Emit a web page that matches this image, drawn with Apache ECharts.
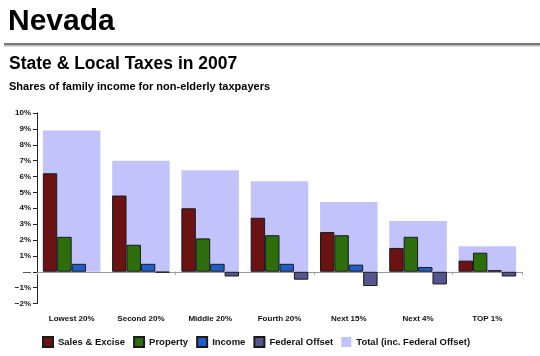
<!DOCTYPE html>
<html><head><meta charset="utf-8">
<script src="https://cdn.jsdelivr.net/npm/echarts@6/dist/echarts.min.js"></script>
<style>html,body{margin:0;padding:0;background:#fff}#c{width:540px;height:356px}</style>
</head><body><div id="c"></div>
<script>
const categories = ['Lowest 20%', 'Second 20%', 'Middle 20%', 'Fourth 20%', 'Next 15%', 'Next 4%', 'TOP 1%'];
const salesExcise = [6.2, 4.8, 4.0, 3.4, 2.5, 1.5, 0.7];
const property = [2.2, 1.7, 2.1, 2.3, 2.3, 2.2, 1.2];
const income = [0.5, 0.5, 0.5, 0.5, 0.45, 0.3, 0.1];
const federalOffset = [null, -0.05, -0.3, -0.5, -0.9, -0.8, -0.3];
const totalIncFederal = [8.9, 7.0, 6.4, 5.7, 4.4, 3.2, 1.6];
const seriesNames = ['Sales & Excise', 'Property', 'Income', 'Federal Offset', 'Total (inc. Federal Offset)'];

const FONT = "'Liberation Sans', Arial, Helvetica, sans-serif";
const chart = echarts.init(document.getElementById('c'), null, {renderer: 'canvas'});
const border = {borderColor: '#1a1a1a', borderWidth: 1};
function sub(name, data, color) {
  return {name, type: 'bar', data, xAxisIndex: 0, barWidth: 14.4, barGap: '0%', z: 3,
    itemStyle: Object.assign({color}, border)};
}
chart.setOption({
  animation: false,
  textStyle: {fontFamily: FONT},
  graphic: [
    {type: 'text', left: 8, top: 7, style: {text: 'Nevada', font: 'bold 30px ' + FONT, fill: '#000'}},
    {type: 'rect', shape: {x: 4, y: 43, width: 536, height: 2}, style: {fill: '#777'}},
    {type: 'rect', shape: {x: 4, y: 45, width: 536, height: 1.5}, style: {fill: '#bbb'}},
    {type: 'text', left: 9, top: 55, style: {text: 'State & Local Taxes in 2007', font: 'bold 17.5px ' + FONT, fill: '#000'}},
    {type: 'text', left: 9, top: 81.5, style: {text: 'Shares of family income for non-elderly taxpayers', font: 'bold 11px ' + FONT, fill: '#000'}}
  ],
  grid: {left: 37, right: 18, top: 113, bottom: 52.5, containLabel: false},
  legend: {
    data: seriesNames, bottom: 3, left: 37, itemWidth: 10, itemHeight: 10, itemGap: 8,
    icon: 'rect',
    textStyle: {fontFamily: FONT, fontWeight: 'bold', fontSize: 9.5, color: '#111'}
  },
  xAxis: [
    {type: 'category', data: categories, position: 'bottom',
      axisLine: {onZero: true, lineStyle: {color: '#999', width: 1}},
      axisTick: {show: true, length: 3, lineStyle: {color: '#999'}},
      axisLabel: {show: false}},
    {type: 'category', data: categories, position: 'bottom',
      axisLine: {show: false, onZero: false}, axisTick: {show: false},
      axisLabel: {show: true, margin: 11, fontFamily: FONT, fontWeight: 'bold', fontSize: 8, color: '#111', interval: 0}}
  ],
  yAxis: {
    type: 'value', min: -2, max: 10, interval: 1,
    splitLine: {show: false},
    axisLine: {show: true, lineStyle: {color: '#222', width: 1}},
    axisTick: {show: true, length: 4, lineStyle: {color: '#222'}},
    axisLabel: {margin: 6, fontFamily: FONT, fontWeight: 'bold', fontSize: 8, color: '#111',
      formatter: v => v === 0 ? '\u2014' : (v < 0 ? '\u2212' + (-v) : v) + '%'}
  },
  series: [
    sub(seriesNames[0], salesExcise, '#6b1212'),
    sub(seriesNames[1], property, '#2d6d0b'),
    sub(seriesNames[2], income, '#1f5ec6'),
    sub(seriesNames[3], federalOffset, '#55558f'),
    {name: seriesNames[4], type: 'bar', data: totalIncFederal, xAxisIndex: 1, barWidth: 57.5, z: 1,
      itemStyle: {color: '#c3c3fb'}}
  ]
});
</script></body></html>
